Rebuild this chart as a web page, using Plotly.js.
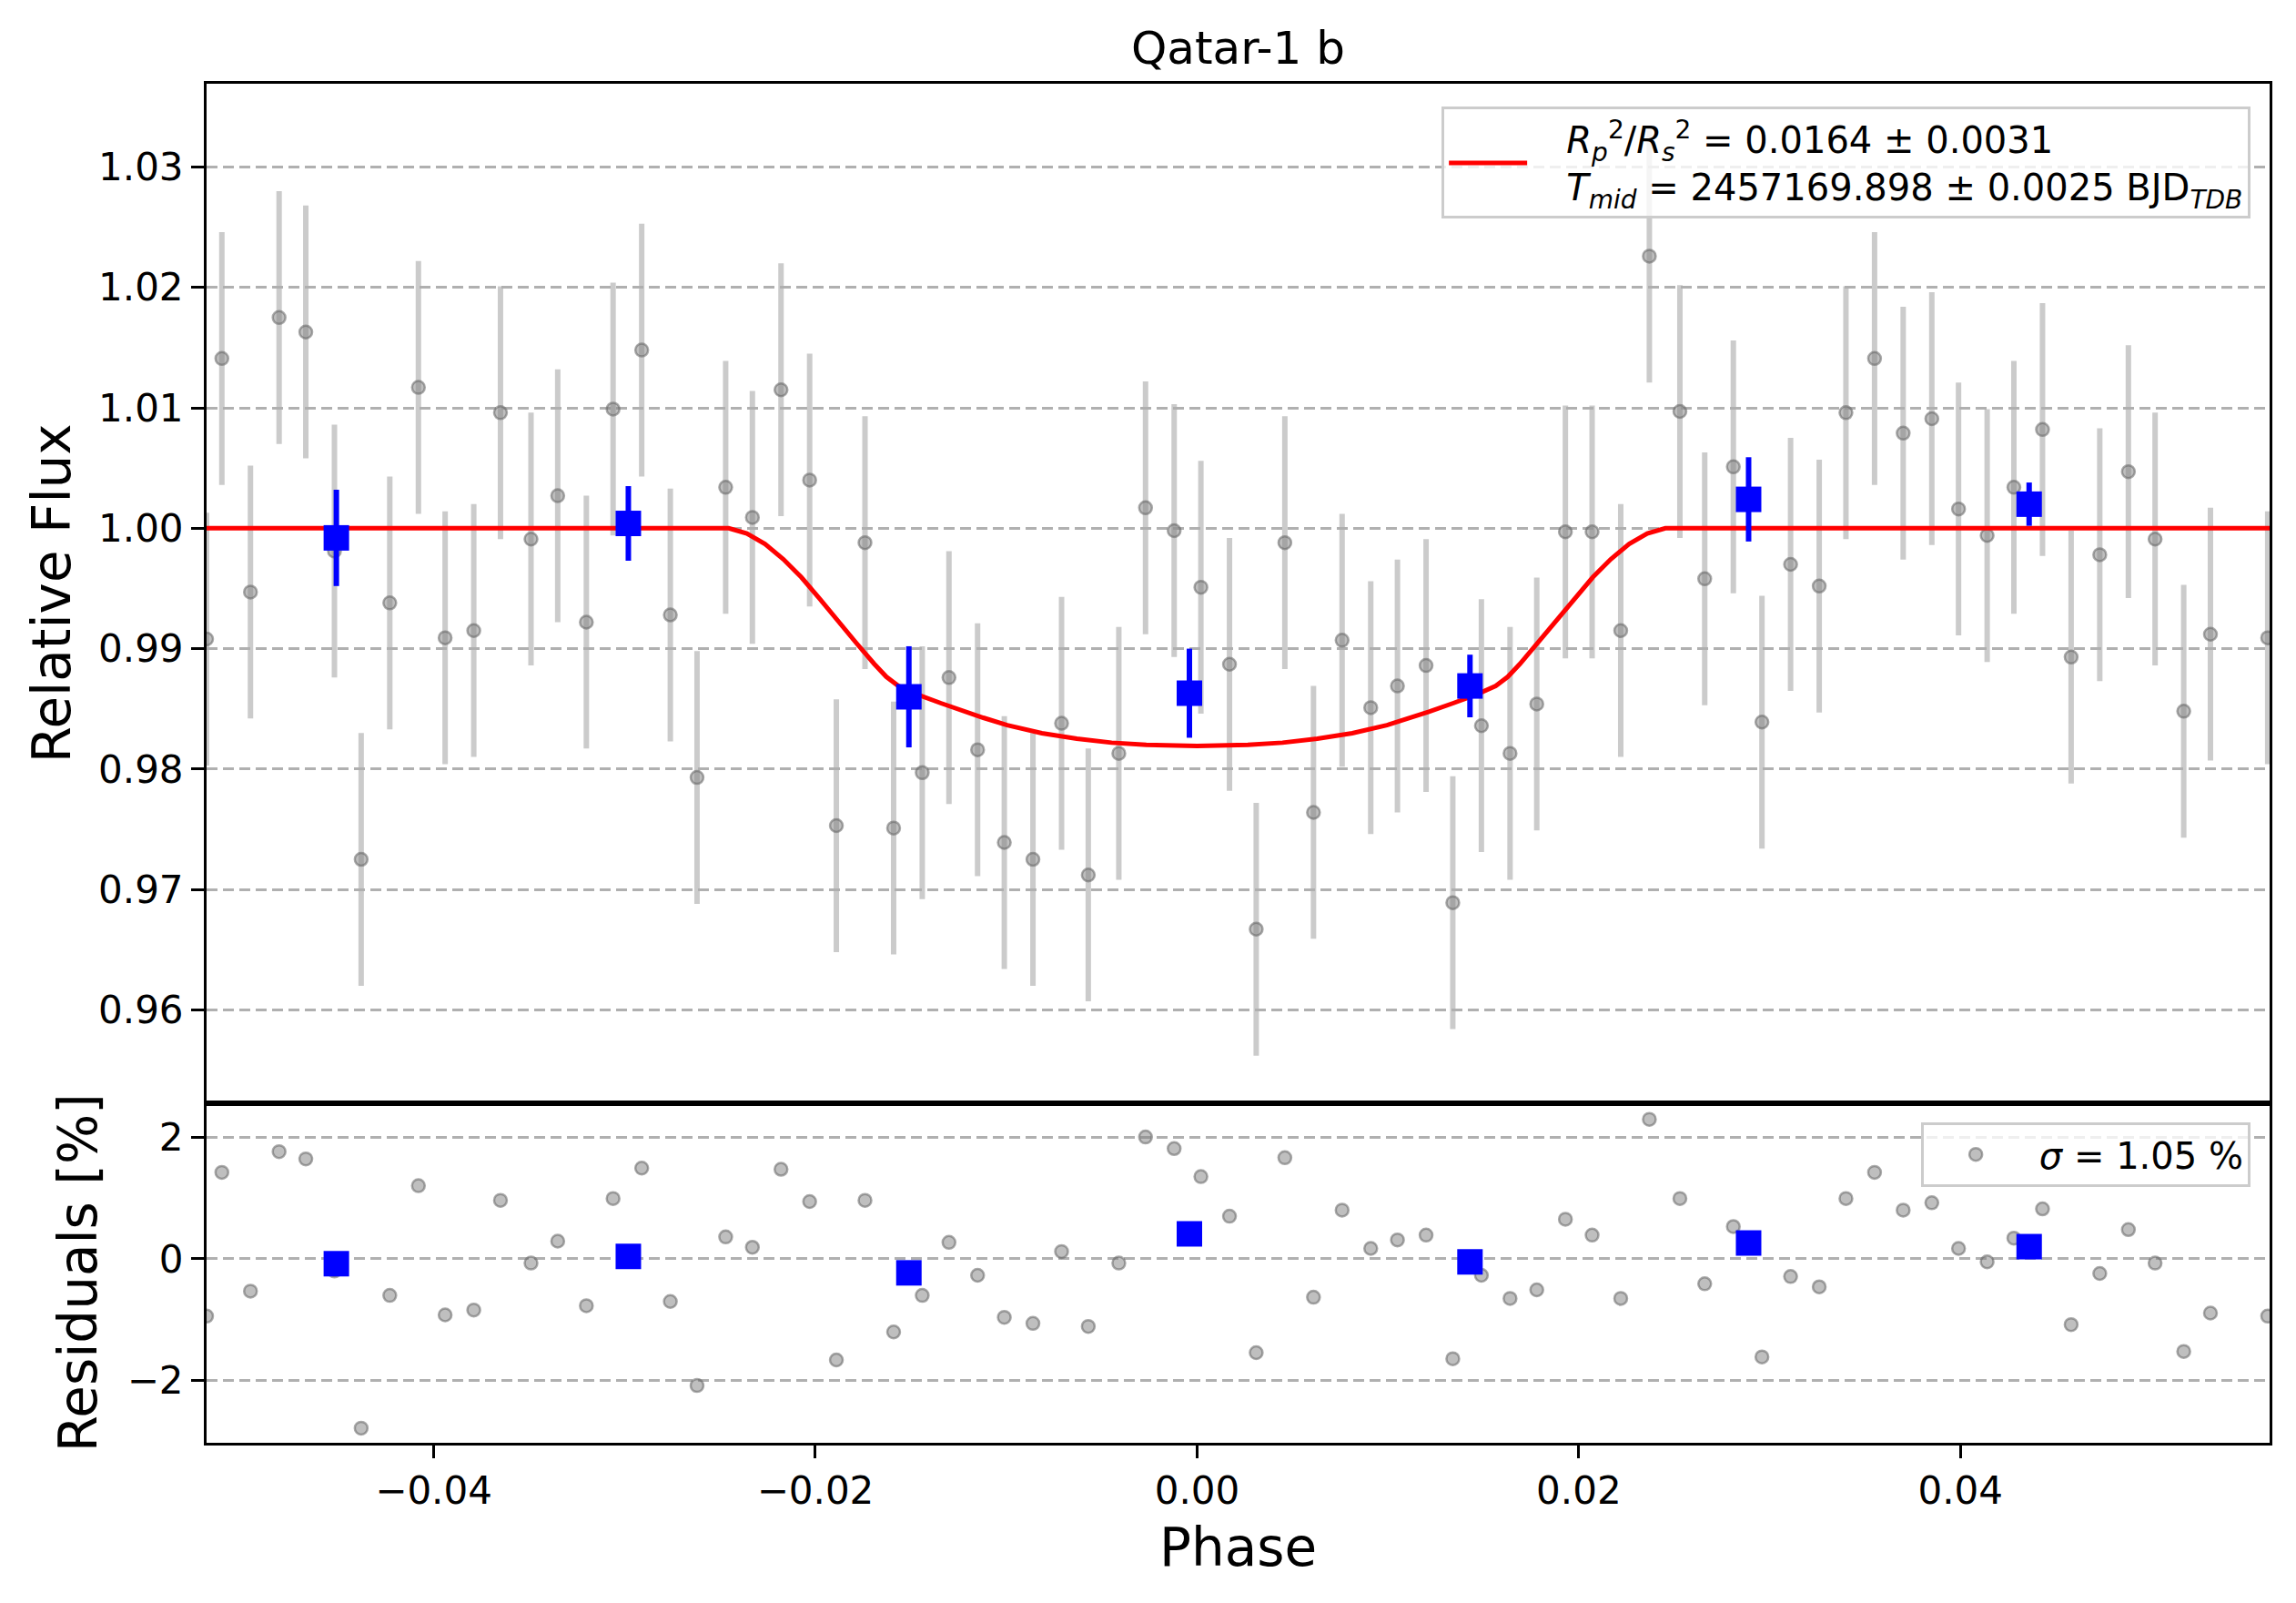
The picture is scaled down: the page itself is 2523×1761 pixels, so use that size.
<!DOCTYPE html>
<html>
<head>
<meta charset="utf-8">
<script src="https://cdn.plot.ly/plotly-3.0.1.min.js"></script>
<style>
    html, body { margin: 0; padding: 0; background: #ffffff; }
    #myDiv { width: 2523px; height: 1761px; }
</style>
</head>
<body>
<div id="myDiv"></div>
<script>
// unbinned points
var phase = [-0.0519, -0.0511, -0.0496, -0.0481, -0.0467, -0.0452, -0.0438, -0.0423, -0.0408, -0.0394,
    -0.0379, -0.0365, -0.0349, -0.0335, -0.0320, -0.0306, -0.0291, -0.0276, -0.0262, -0.0247,
    -0.0233, -0.0218, -0.0203, -0.0189, -0.0174, -0.0159, -0.0144, -0.0130, -0.0115, -0.0101,
    -0.0086, -0.0071, -0.0057, -0.0041, -0.0027, -0.0012, 0.0002, 0.0017, 0.0031, 0.0046,
    0.0061, 0.0076, 0.0091, 0.0105, 0.0120, 0.0134, 0.0149, 0.0164, 0.0178, 0.0193,
    0.0207, 0.0222, 0.0237, 0.0253, 0.0266, 0.0281, 0.0296, 0.0311, 0.0326, 0.0340,
    0.0355, 0.0370, 0.0385, 0.0399, 0.0414, 0.0428, 0.0443, 0.0458, 0.0473, 0.0488,
    0.0502, 0.0517, 0.0531, 0.0561];
var flux = [0.9908, 1.0141, 0.9947, 1.0175, 1.0163, 0.9981, 0.9725, 0.9938, 1.0117, 0.9909,
    0.9915, 1.0096, 0.9991, 1.0027, 0.9922, 1.0099, 1.0148, 0.9928, 0.9793, 1.0034,
    1.0009, 1.0115, 1.0040, 0.9753, 0.9988, 0.9751, 0.9797, 0.9876, 0.9816, 0.9739,
    0.9725, 0.9838, 0.9712, 0.9813, 1.0017, 0.9998, 0.9951, 0.9887, 0.9667, 0.9988,
    0.9764, 0.9907, 0.9851, 0.9869, 0.9886, 0.9689, 0.9836, 0.9813, 0.9854, 0.9997,
    0.9997, 0.9915, 1.0226, 1.0097, 0.9958, 1.0051, 0.9839, 0.9970, 0.9952, 1.0096,
    1.0141, 1.0079, 1.0091, 1.0016, 0.9994, 1.0034, 1.0082, 0.9893, 0.9978, 1.0047,
    0.9991, 0.9848, 0.9912, 0.9909];
var fluxErr = 0.0105;
var resid = [-0.94, 1.42, -0.53, 1.76, 1.64, -0.20, -2.78, -0.60, 1.20, -0.92,
    -0.84, 0.96, -0.07, 0.29, -0.77, 0.99, 1.49, -0.70, -2.08, 0.36,
    0.19, 1.47, 0.94, -1.66, 0.96, -1.20, -0.60, 0.27, -0.27, -0.96,
    -1.06, 0.12, -1.11, -0.07, 2.00, 1.81, 1.35, 0.70, -1.54, 1.66,
    -0.63, 0.80, 0.17, 0.31, 0.39, -1.64, -0.27, -0.65, -0.51, 0.65,
    0.39, -0.65, 2.29, 0.99, -0.41, 0.53, -1.61, -0.29, -0.46, 0.99,
    1.42, 0.80, 0.92, 0.17, -0.05, 0.34, 0.82, -1.08, -0.24, 0.48,
    -0.07, -1.52, -0.89, -0.94];

// binned points
var binPhase = [-0.0451, -0.0298, -0.0151, -0.0004, 0.0143, 0.0289, 0.0436];
var binFlux = [0.9992, 1.0004, 0.9860, 0.9863, 0.9869, 1.0024, 1.0020];
var binErr = [0.0040, 0.0031, 0.0042, 0.0037, 0.0026, 0.0035, 0.0018];
var binResid = [-0.08, 0.04, -0.23, 0.41, -0.05, 0.26, 0.20];

// fitted transit model
var modelPhase = [-0.0519, -0.02454, -0.02359, -0.02264, -0.02168, -0.02073, -0.01978, -0.01882,
    -0.01787, -0.01692, -0.01628, -0.01565, -0.01469, -0.01342, -0.01215, -0.01120, -0.00995,
    -0.00813, -0.00630, -0.00448, -0.00266, 0.0,
    0.00266, 0.00448, 0.00630, 0.00813, 0.00995, 0.01120, 0.01215, 0.01342, 0.01469,
    0.01565, 0.01628, 0.01692, 0.01787, 0.01882, 0.01978, 0.02073, 0.02168, 0.02264,
    0.02359, 0.02454, 0.0562];
var modelFlux = [1.0, 1.0, 0.99957, 0.99869, 0.99743, 0.99592, 0.99416, 0.99227,
    0.99050, 0.98874, 0.98766, 0.98690, 0.98622, 0.98547, 0.98476, 0.98426, 0.98364,
    0.98298, 0.98252, 0.98219, 0.98201, 0.98192,
    0.98201, 0.98219, 0.98252, 0.98298, 0.98364, 0.98426, 0.98476, 0.98547, 0.98622,
    0.98690, 0.98766, 0.98874, 0.99050, 0.99227, 0.99416, 0.99592, 0.99743, 0.99869,
    0.99957, 1.0, 1.0];

var pad = "\u00a0\u00a0\u00a0";
var fitLabel = pad + "<i>R</i><sub><i>p</i></sub><sup>2</sup>/<i>R</i><sub><i>s</i></sub><sup>2</sup> = 0.0164 ± 0.0031<br>" +
    pad + "<i>T</i><sub><i>mid</i></sub> = 2457169.898 ± 0.0025 BJD<sub><i>TDB</i></sub>";
var sigmaLabel = "\u00a0<i>σ</i> = 1.05 %";

var font = "DejaVu Sans, Liberation Sans, sans-serif";

function axisStyle() {
    return {
        showline: true,
        linecolor: "black",
        linewidth: 3,
        mirror: true,
        ticks: "outside",
        ticklen: 14,
        tickwidth: 3,
        tickcolor: "black",
        tickfont: {family: font, size: 42, color: "black"},
        zeroline: false
    };
}

function loadPage() {
    var grey = {
        x: phase,
        y: flux,
        xaxis: "x2",
        yaxis: "y",
        type: "scatter",
        mode: "markers",
        marker: {size: 14, color: "rgba(128,128,128,0.5)", line: {color: "rgba(100,100,100,0.55)", width: 2.5}},
        error_y: {type: "constant", value: fluxErr, color: "rgba(175,175,175,0.65)", thickness: 6, width: 0},
        showlegend: false,
        hoverinfo: "skip"
    };
    var model = {
        x: modelPhase,
        y: modelFlux,
        xaxis: "x2",
        yaxis: "y",
        type: "scatter",
        mode: "lines",
        line: {color: "red", width: 5},
        name: fitLabel,
        legend: "legend"
    };
    var binned = {
        x: binPhase,
        y: binFlux,
        xaxis: "x2",
        yaxis: "y",
        type: "scatter",
        mode: "markers",
        marker: {symbol: "square", size: 28, color: "blue"},
        error_y: {type: "data", array: binErr, color: "blue", thickness: 6, width: 0},
        showlegend: false
    };
    var residGrey = {
        x: phase,
        y: resid,
        xaxis: "x",
        yaxis: "y2",
        type: "scatter",
        mode: "markers",
        marker: {size: 14, color: "rgba(128,128,128,0.5)", line: {color: "rgba(100,100,100,0.55)", width: 2.5}},
        name: sigmaLabel,
        legend: "legend2"
    };
    var residBinned = {
        x: binPhase,
        y: binResid,
        xaxis: "x",
        yaxis: "y2",
        type: "scatter",
        mode: "markers",
        marker: {symbol: "square", size: 28, color: "blue"},
        showlegend: false
    };

    var xBottom = axisStyle();
    xBottom.anchor = "y2";
    xBottom.range = [-0.0519, 0.0562];
    xBottom.tick0 = 0;
    xBottom.dtick = 0.02;
    xBottom.tickformat = ".2f";
    xBottom.showgrid = false;
    xBottom.title = {text: "Phase", font: {family: font, size: 58, color: "black"}, standoff: 18};

    var xTop = axisStyle();
    xTop.anchor = "y";
    xTop.matches = "x";
    xTop.showticklabels = false;
    xTop.ticks = "";
    xTop.showgrid = false;

    var yTop = axisStyle();
    yTop.domain = [0.25, 1];
    yTop.anchor = "x2";
    yTop.range = [0.95226, 1.03692];
    yTop.dtick = 0.01;
    yTop.tick0 = 0.96;
    yTop.tickformat = ".2f";
    yTop.showgrid = true;
    yTop.gridcolor = "#b0b0b0";
    yTop.gridwidth = 3;
    yTop.griddash = "12px,6px";
    yTop.title = {text: "Relative Flux", font: {family: font, size: 58, color: "black"}, standoff: 12};

    var yBottom = axisStyle();
    yBottom.domain = [0, 0.25];
    yBottom.anchor = "x";
    yBottom.range = [-3.02, 2.558];
    yBottom.tickvals = [-2, 0, 2];
    yBottom.showgrid = true;
    yBottom.gridcolor = "#b0b0b0";
    yBottom.gridwidth = 3;
    yBottom.griddash = "12px,6px";
    yBottom.title = {text: "Residuals [%]", font: {family: font, size: 58, color: "black"}, standoff: 15};

    var layout = {
        width: 2523,
        height: 1761,
        margin: {l: 227, r: 29, t: 92, b: 176},
        paper_bgcolor: "white",
        plot_bgcolor: "white",
        font: {family: font, color: "black"},
        title: {
            text: "Qatar-1 b",
            font: {family: font, size: 50, color: "black"},
            x: 0.5,
            xref: "paper",
            xanchor: "center",
            y: 0.97,
            yanchor: "middle"
        },
        xaxis: xBottom,
        xaxis2: xTop,
        yaxis: yTop,
        yaxis2: yBottom,
        legend: {
            x: 0.9908,
            y: 0.983,
            xanchor: "right",
            yanchor: "top",
            bgcolor: "rgba(255,255,255,0.8)",
            bordercolor: "#cccccc",
            borderwidth: 3,
            font: {family: font, size: 40, color: "black"},
            itemwidth: 86
        },
        legend2: {
            x: 0.9908,
            y: 0.236,
            xanchor: "right",
            yanchor: "top",
            bgcolor: "rgba(255,255,255,0.8)",
            bordercolor: "#cccccc",
            borderwidth: 3,
            font: {family: font, size: 40, color: "black"},
            itemwidth: 104
        },
        showlegend: true
    };

    Plotly.newPlot("myDiv", [grey, model, binned, residGrey, residBinned], layout, {displayModeBar: false, staticPlot: true});
}

loadPage();
</script>
</body>
</html>
